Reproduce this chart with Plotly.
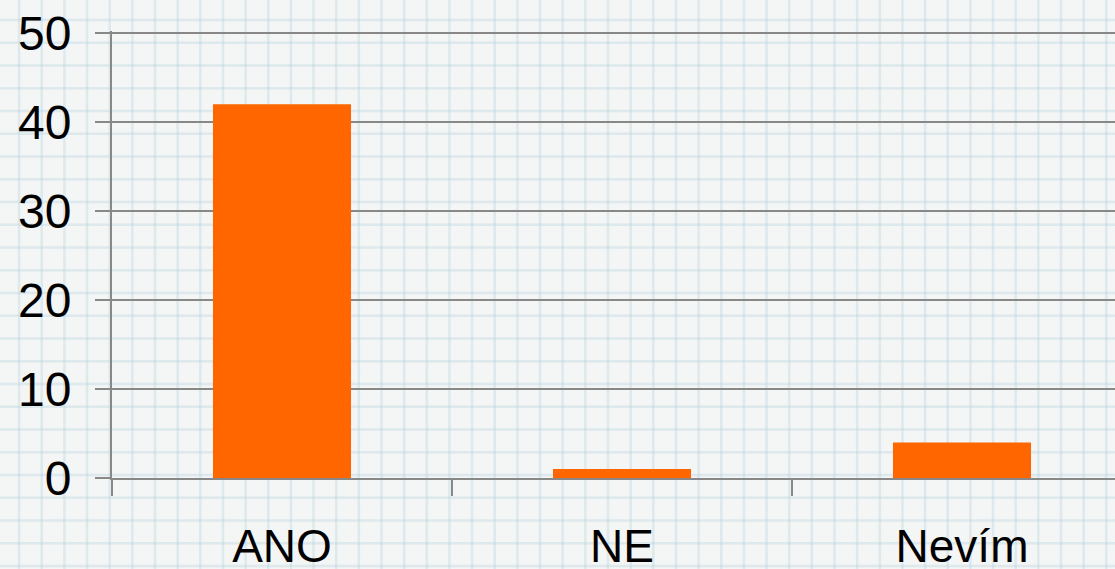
import plotly.graph_objects as go

categories = ["ANO", "NE", "Nevím"]
values = [42, 1, 4]
y_ticks = [0, 10, 20, 30, 40, 50]

W, H = 1115, 569
BAR = "#FF6600"
AX = "#888888"
PAPER = "#f4f5f5"

fig = go.Figure()
fig.add_trace(go.Bar(x=categories, y=values, marker=dict(color=BAR, line=dict(width=0)),
                     width=0.406, hoverinfo="x+y"))

# graph-paper background
shapes = []
GRID = "rgba(175,208,222,0.33)"
gx = 19.1
while gx < W:
    shapes.append(dict(type="line", xref="paper", yref="paper", x0=gx / W, x1=gx / W, y0=0, y1=1,
                       line=dict(color=GRID, width=2.5), layer="below"))
    gx += 22.65
gy = 20.0
while gy < H:
    shapes.append(dict(type="line", xref="paper", yref="paper", x0=0, x1=1, y0=1 - gy / H, y1=1 - gy / H,
                       line=dict(color=GRID, width=2.5), layer="below"))
    gy += 22.75

x_left = 112
cat_w = 340
px_per_unit = 8.9
y_top = 50.25
fig.update_layout(
    width=W, height=H,
    margin=dict(l=0, r=0, t=0, b=0, autoexpand=False),
    paper_bgcolor=PAPER,
    plot_bgcolor="rgba(0,0,0,0)",
    showlegend=False,
    shapes=shapes,
    font=dict(family="Liberation Sans, Arial, sans-serif", color="#000000"),
    xaxis=dict(
        domain=[x_left / W, 1],
        range=[-0.5, -0.5 + (W - x_left) / cat_w],
        showgrid=False, zeroline=False,
        showline=True, linecolor=AX, linewidth=2,
        ticks="outside", tickson="boundaries", ticklen=16, tickwidth=2, tickcolor=AX,
        tickfont=dict(size=46, color="#000000"),
        ticklabelstandoff=27,
        automargin=False,
    ),
    yaxis=dict(
        domain=[1 - 478 / H, 1 - (478 - y_top * px_per_unit) / H],
        range=[0, y_top],
        tickvals=y_ticks,
        showgrid=True, gridcolor=AX, gridwidth=2,
        zeroline=False,
        showline=True, linecolor=AX, linewidth=2,
        ticks="outside", ticklen=15, tickwidth=2, tickcolor=AX,
        tickfont=dict(size=48, color="#000000"),
        ticklabelstandoff=14,
        automargin=False,
    ),
)

fig.write_html(
    "out.html",
    config={"displayModeBar": False},
    post_script="document.body.style.margin='0';document.body.style.background='%s';" % PAPER,
)
